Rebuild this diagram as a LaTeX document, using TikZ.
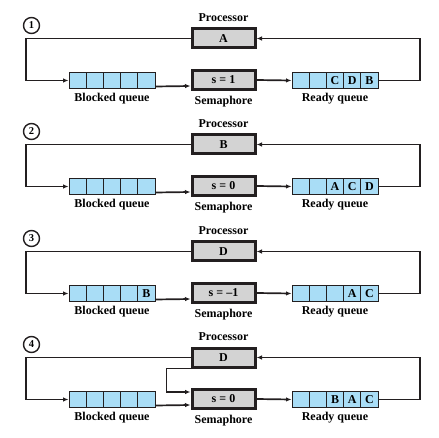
\documentclass[tikz,border=0pt]{standalone}
\usepackage{fontspec}
\setmainfont{Liberation Serif}
\usepackage{tikz}
\usetikzlibrary{arrows.meta,positioning}
\definecolor{boxgray}{HTML}{D3D3D3}
\definecolor{cellblue}{HTML}{A9DDF6}
\definecolor{ink}{HTML}{231F20}
\begin{document}
\begin{tikzpicture}[x=1pt,y=-1pt,font=\fontsize{12}{14}\selectfont\bfseries,
  unit/.style={draw=ink,line width=3pt,fill=boxgray,minimum width=63pt,minimum height=19pt,inner sep=0pt},
  cell/.style={draw=ink,line width=0.9pt,fill=cellblue,minimum width=17.2pt,minimum height=16.5pt,inner sep=0pt},
  lbl/.style={inner sep=0pt},
  stepno/.style={circle,draw=ink,line width=1.4pt,minimum size=16pt,inner sep=0pt,font=\fontsize{10.5}{12}\selectfont\bfseries},
  flow/.style={draw=ink,line width=1.7pt,-{Latex[length=5.5pt,width=4.5pt]}}]
\useasboundingbox (0,0) rectangle (439,438);
\foreach \n/\oy/\proc/\sem/\bq/\rq in %
{1/0/A/{s = 1}/{{},{},{},{},{}}/{{},{},C,D,B},
 2/106/B/{s = 0}/{{},{},{},{},{}}/{{},{},A,C,D},
 3/213/D/{s = –1}/{{},{},{},{},B}/{{},{},{},A,C},
 4/319/D/{s = 0}/{{},{},{},{},{}}/{{},{},B,A,C}} {
   \node[stepno] (c\n) at (31.5,\oy+25.5) {\n};
   \node[unit] (p\n) at (223.5,\oy+38.5) {\proc};
   \node[unit] (s\n) at (223.5,\oy+80) {\sem};
   \foreach \c [count=\k] in \bq {
      \node[cell] (b\n-\k) at (77.6+17.2*\k-17.2,\oy+80.5) {\c};
   }
   \foreach \c [count=\k] in \rq {
      \node[cell] (r\n-\k) at (300.6+17.2*\k-17.2,\oy+80.5) {\c};
   }
   \coordinate (lc\n) at (26,\oy+80.5);
   \coordinate (rc\n) at (420,\oy+80.5);
   \node[lbl,above=6pt of p\n] {Processor};
   \node[lbl,below=4.5pt of s\n] {Semaphore};
   \node[lbl,below=4pt of b\n-3] {Blocked queue};
   \node[lbl,below=4pt of r\n-3] {Ready queue};
   % the loop round the processor
   \draw[flow] (p\n.west) -| (lc\n) -- (b\n-1.west);
   \draw[flow] ([yshift=-6pt]b\n-5.east) -- ([yshift=-6pt]s\n.west);
   \draw[flow] (s\n.east) -- (r\n-1.west);
   \draw[flow] (r\n-5.east) -- (rc\n) |- (p\n.east);
}
% step 4: D goes from the processor to the semaphore
\draw[flow] (p4.south west) -- ++(-24,0) |- ([yshift=7pt]s4.west);
\end{tikzpicture}
\end{document}
